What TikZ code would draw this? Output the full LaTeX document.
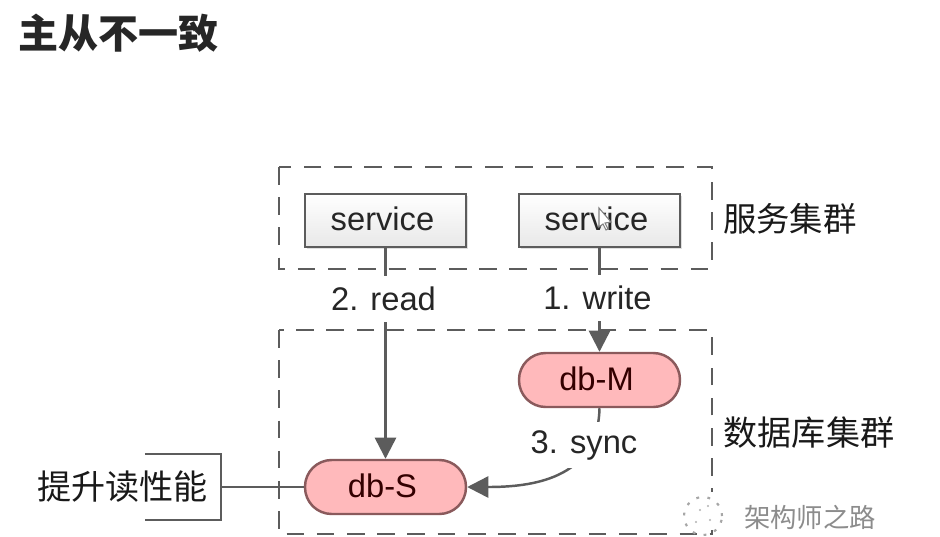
\documentclass[tikz,border=0pt]{standalone}
\usepackage{fontspec}
\setmainfont{Liberation Sans}
\newfontfamily\cjk{Noto Sans CJK SC}
\usetikzlibrary{arrows.meta, shadows}

\definecolor{linegray}{HTML}{5C5C5C}
\definecolor{dbpink}{HTML}{FFB9BB}
\definecolor{dbedge}{HTML}{8A5A5C}

\tikzset{
    cluster/.style={draw=linegray, line width=0.75pt, dash pattern=on 5pt off 3.6pt},
    svcbox/.style={draw=linegray, line width=0.8pt, top color=white, bottom color=black!9,
        minimum width=1.61cm, minimum height=0.53cm, font=\fontsize{9.3}{11}\selectfont,
        text height=6.9pt, text depth=1.2pt, text=black!85,
        drop shadow={shadow xshift=0.6pt, shadow yshift=-0.6pt, opacity=0.25}},
    dbnode/.style={rectangle, rounded corners=7.6pt, draw=dbedge, line width=0.7pt, fill=dbpink,
        minimum width=1.61cm, minimum height=0.54cm, font=\fontsize{9.3}{11}\selectfont,
        text height=6.9pt, text depth=1.2pt, text=black!80!red},
    flow/.style={draw=linegray, line width=0.7pt},
    arrowflow/.style={flow, -{Triangle[length=6pt, width=6pt]}},
    flowlabel/.style={fill=white, inner xsep=1.5pt, inner ysep=0pt, minimum height=0.46cm,
        font=\fontsize{9.3}{11}\selectfont, text=black!85},
    cjklabel/.style={font=\cjk\fontsize{9.7}{11}\selectfont, text=black!90, inner sep=0pt}
}

\begin{document}
\begin{tikzpicture}
    \useasboundingbox (0, 0) rectangle (9.4, -5.36);
    \fill[white] (0, 0) rectangle (9.4, -5.36);

    % Title
    \node[font=\cjk\bfseries\fontsize{11.4}{13}\selectfont, text=black!85, inner sep=0pt] (title) at (1.185, -0.33) {主从不一致};

    % Clusters
    \draw[cluster] (2.79, -1.67) rectangle (7.12, -2.69);
    \draw[cluster] (2.79, -3.30) rectangle (7.12, -5.34);
    \node[cjklabel, font=\cjk\fontsize{9.5}{11}\selectfont] (svccluster) at (7.90, -2.19) {服务集群};
    \node[cjklabel] (dbcluster) at (8.09, -4.33) {数据库集群};

    % Services and databases
    \node[svcbox] (svcread) at (3.855, -2.205) {service\kern1.7pt};
    \node[svcbox] (svcwrite) at (5.995, -2.205) {service\kern1.7pt};
    \node[dbnode] (dbm) at (5.995, -3.80) {db-M\kern1.7pt};
    \node[dbnode] (dbs) at (3.855, -4.87) {db-S\kern1.7pt};

    % Flows
    \draw[arrowflow] (svcread.south) -- node[flowlabel, pos=0.24, xshift=-0.02cm] (readlabel) {2. read} (dbs.north);
    \draw[arrowflow] (svcwrite.south) -- node[flowlabel, pos=0.48, xshift=-0.02cm] (writelabel) {1. write} (dbm.north);
    \draw[arrowflow] (dbm.south) .. controls (5.98, -4.80) and (5.30, -4.87) .. (dbs.east);
    \node[flowlabel] (synclabel) at (5.84, -4.45) {3. sync};

    % Read boost
    \node[cjklabel] (boost) at (1.225, -4.87) {提升读性能};
    \coordinate (bracketup) at (1.45, -4.54);
    \coordinate (bracketdown) at (1.45, -5.20);
    \coordinate (bracketmid) at (2.21, -4.87);
    \draw[flow] (bracketup) -| (bracketmid) |- (bracketdown);
    \draw[flow] (dbs.west) -- (bracketmid);

    % Watermark
    \fill[white] (6.72, -4.92) rectangle (8.85, -5.30);
    \draw[gray!70, line width=0.6pt, dash pattern=on 0.8pt off 2.4pt] (7.03, -5.16) circle (0.19);
    \fill[gray!60] (7.00, -5.10) circle (0.012) (7.08, -5.06) circle (0.012) (6.96, -5.22) circle (0.012) (7.10, -5.20) circle (0.012);
    \node[font=\cjk\fontsize{7.5}{9}\selectfont, text=black!45, inner sep=0pt] (mark) at (8.10, -5.17) {架构师之路};

    % Mouse pointer
    \draw[gray, fill=white, line width=0.3pt] (5.99, -2.08) -- (5.99, -2.27) -- (6.03, -2.24) -- (6.06, -2.30) -- (6.08, -2.29) -- (6.05, -2.23) -- (6.11, -2.22) -- cycle;
\end{tikzpicture}
\end{document}
